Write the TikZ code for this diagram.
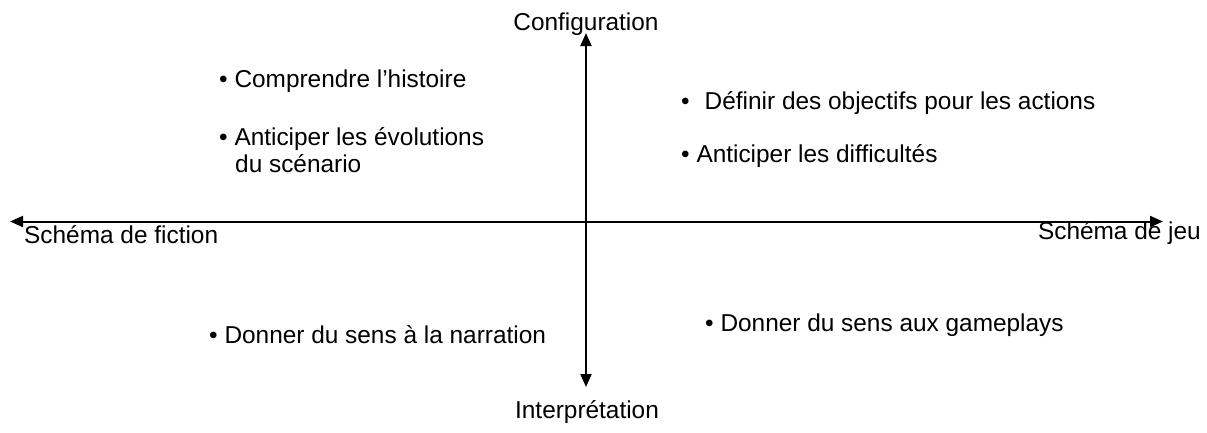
\documentclass[tikz,border=0pt]{standalone}
\usepackage{fontspec}
\setmainfont{Liberation Sans}
\usetikzlibrary{arrows.meta}
\tikzset{
  axis/.style={line width=2pt, {Triangle[length=13pt,width=11pt]}-{Triangle[length=13pt,width=11pt]}},
  lbl/.style={inner sep=0pt, font=\fontsize{24.4}{29}\selectfont},
}
\begin{document}
\begin{tikzpicture}[x=1pt,y=-1pt]
\useasboundingbox (0,0) rectangle (1207,432);
% axes
\coordinate (hl) at (10,221.5);
\coordinate (hr) at (1163,221.5);
\coordinate (vt) at (586,33);
\coordinate (vb) at (586,387);
\draw[axis] (hl) -- (hr);
\draw[axis] (vt) -- (vb);
% axis labels
\node[lbl, anchor=base] (conf) at (586,30) {Configuration};
\node[lbl, anchor=base] (interp) at (587,418) {Interprétation};
\node[lbl, anchor=base west] (fic) at (24,243) {Schéma de fiction};
\node[lbl, anchor=base east] (jeu) at (1201,239) {Schéma de jeu};
% quadrant texts
\node[lbl, anchor=base west] (t1) at (219,87) {\textbullet{} Comprendre l’histoire};
\node[lbl, anchor=base west] (t2) at (219,145) {\textbullet{} Anticiper les évolutions};
\node[lbl, anchor=base west] (t2b) at (235,172) {du scénario};
\node[lbl, anchor=base west] (t3) at (681,109) {\textbullet\hspace{15pt}Définir des objectifs pour les actions};
\node[lbl, anchor=base west] (t4) at (681,162) {\textbullet{} Anticiper les difficultés};
\node[lbl, anchor=base west] (t5) at (209,343) {\textbullet{} Donner du sens à la narration};
\node[lbl, anchor=base west] (t6) at (705,331) {\textbullet{} Donner du sens aux gameplays};
\end{tikzpicture}
\end{document}
